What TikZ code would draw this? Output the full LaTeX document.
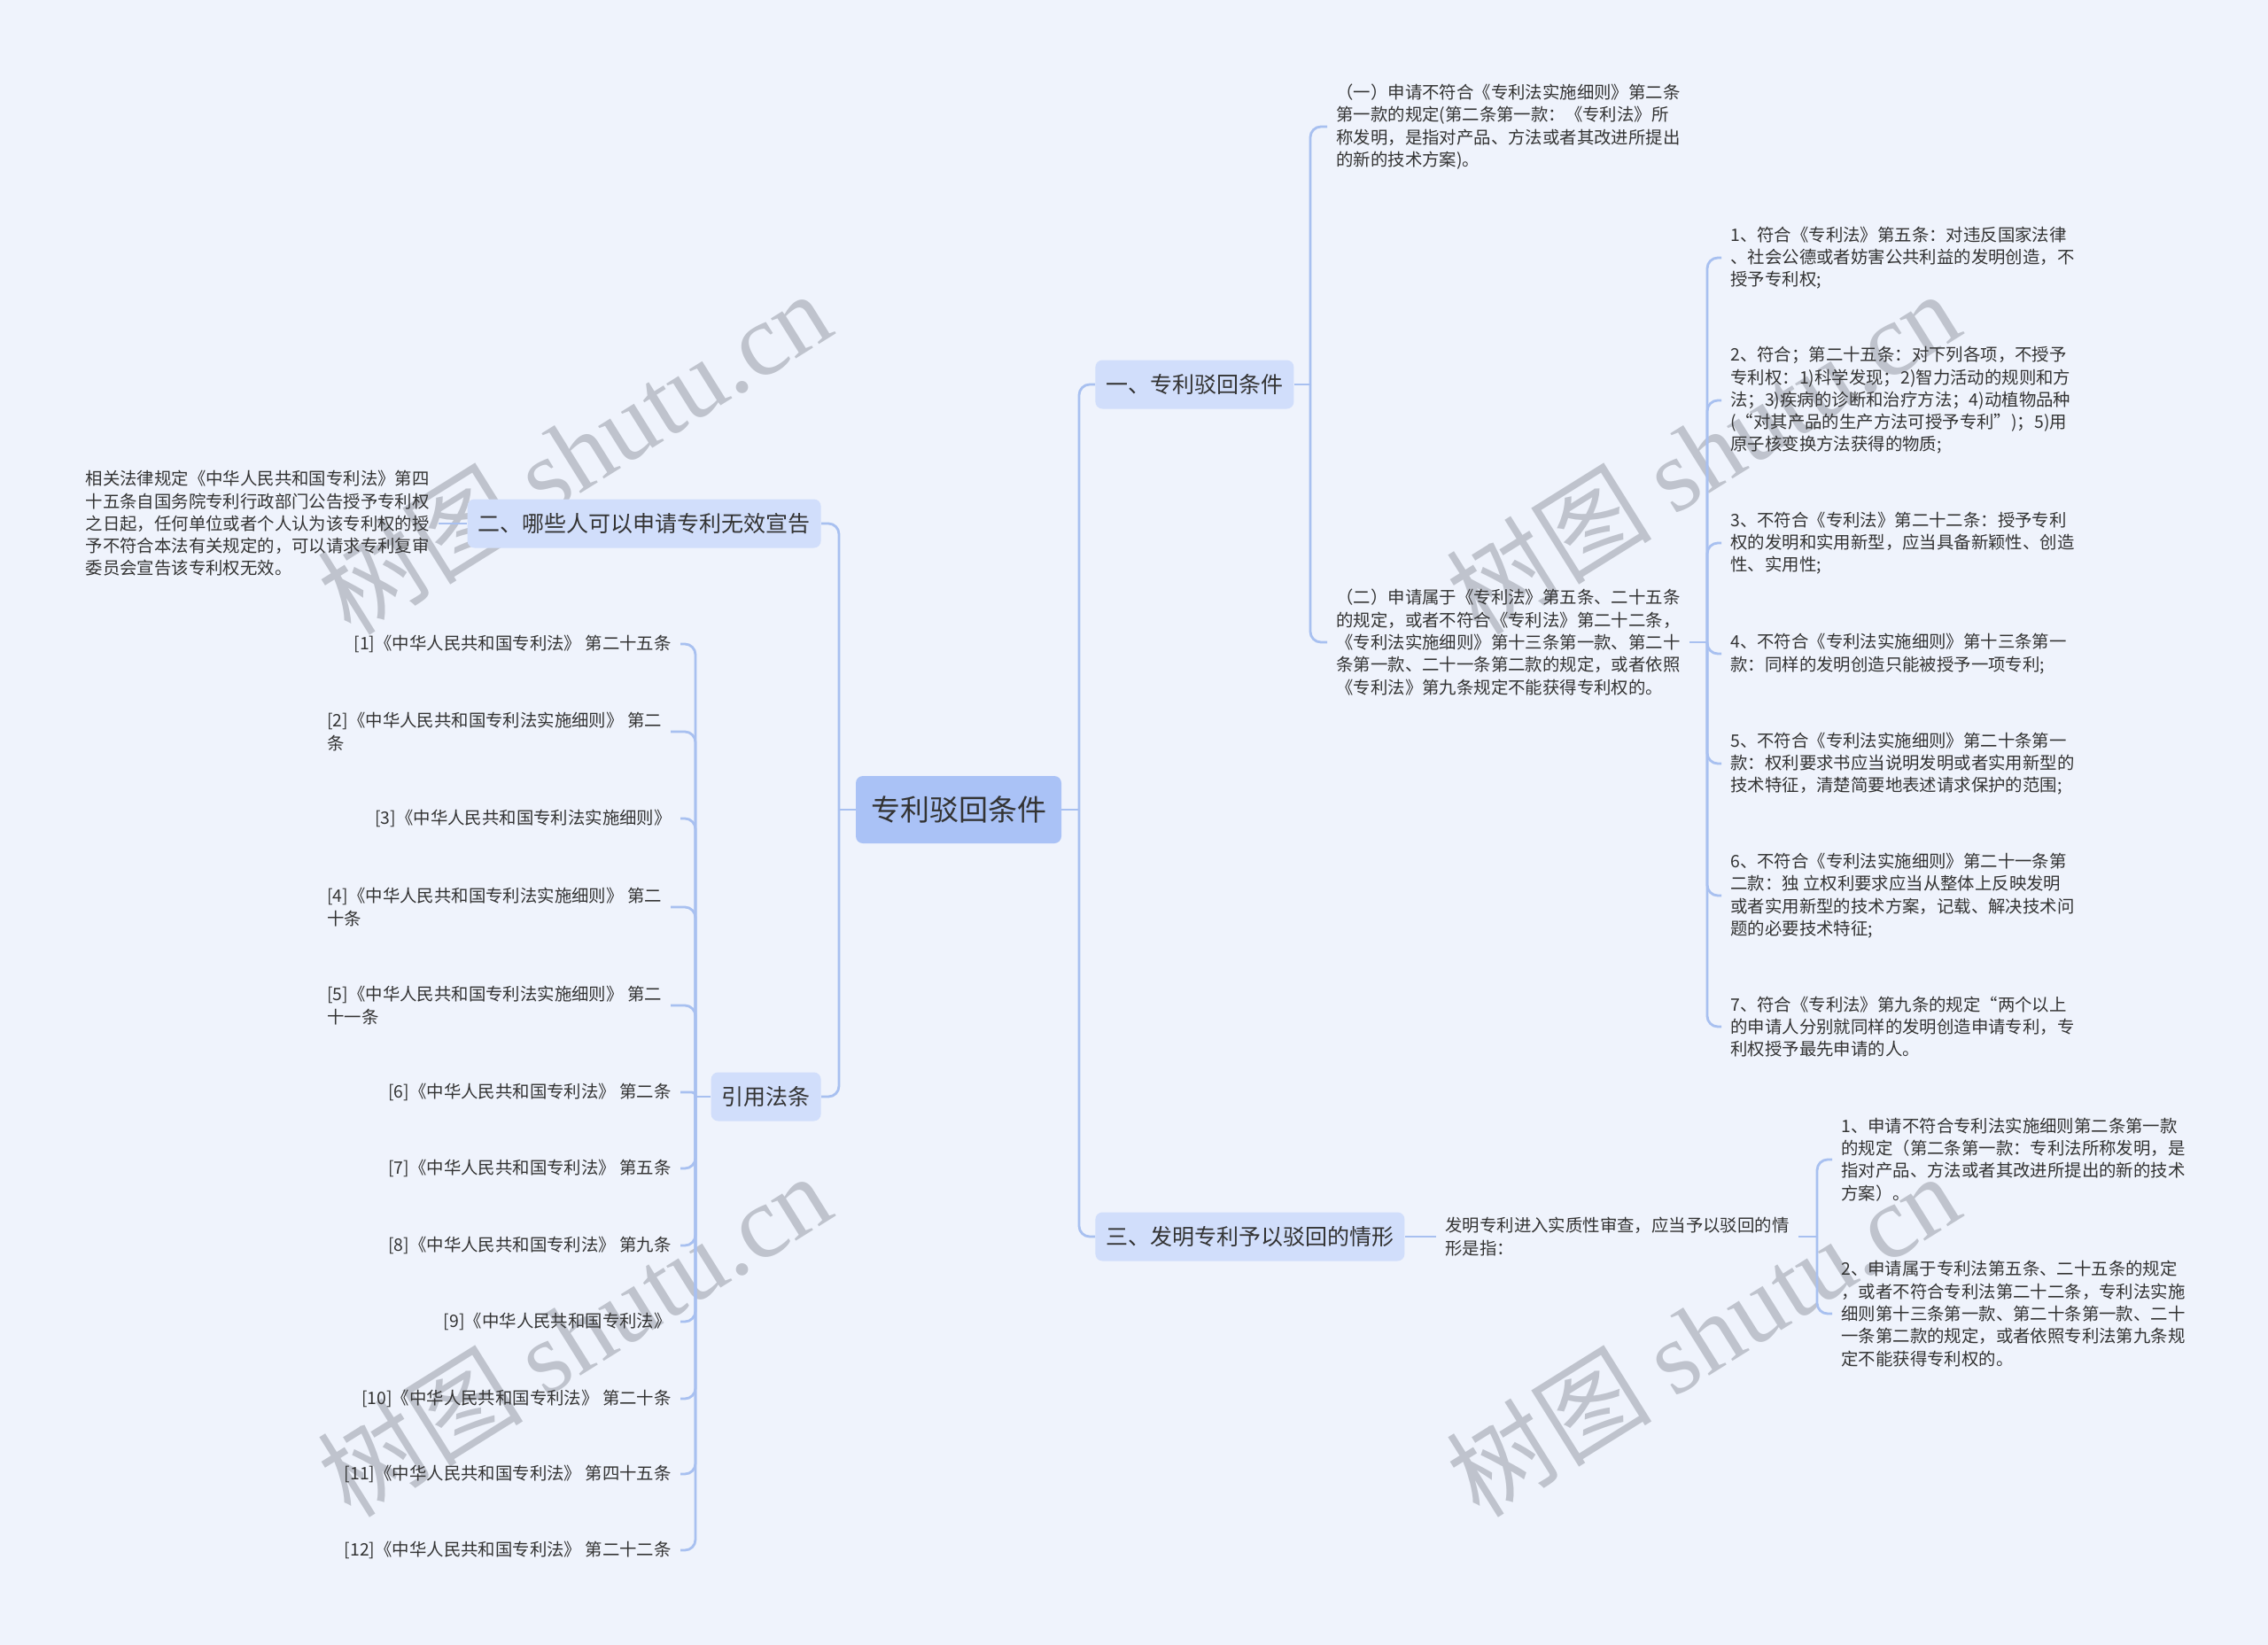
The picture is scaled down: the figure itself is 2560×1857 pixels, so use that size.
\documentclass[tikz,border=0pt]{standalone}
\usepackage{fontspec}
\setmainfont{Noto Sans CJK SC}
\newfontfamily\wmcjk{Noto Sans CJK SC}
\newfontfamily\wmlat{Liberation Serif}
\usetikzlibrary{calc}
\definecolor{bgc}{RGB}{239,243,252}
\definecolor{rootc}{RGB}{170,194,246}
\definecolor{mainc}{RGB}{209,222,251}
\definecolor{linec}{RGB}{168,192,240}
\definecolor{txtc}{RGB}{51,51,51}
\definecolor{wmc}{RGB}{120,125,135}
\begin{document}
\begin{tikzpicture}[x=0.5pt,y=-0.5pt,
  conn/.style={draw=linec, line width=1.4pt, rounded corners=6pt},
  rootbox/.style={fill=rootc, rounded corners=4pt, font=\fontsize{16.5pt}{20pt}\selectfont, text=txtc, inner xsep=8.5pt, minimum height=38pt},
  mainbox/.style={fill=mainc, rounded corners=4pt, font=\fontsize{12.5pt}{15pt}\selectfont, text=txtc, inner xsep=6pt, minimum height=27.5pt},
  leaf/.style={font=\fontsize{9.7pt}{12.65pt}\selectfont, text=txtc, align=left, inner xsep=5pt, inner ysep=0pt},
  wm/.style={rotate=32, text=wmc, opacity=0.4, font=\fontsize{58pt}{58pt}\selectfont},
]
\path[use as bounding box, fill=bgc] (0,0) rectangle (2560,1857);

% watermarks
\node[wm] (w1) at (648,510) {\wmcjk 树图\ \wmlat shutu.cn};
\node[wm] (w2) at (1922,510) {\wmcjk 树图\ \wmlat shutu.cn};
\node[wm] (w3) at (648,1506) {\wmcjk 树图\ \wmlat shutu.cn};
\node[wm] (w4) at (1922,1506) {\wmcjk 树图\ \wmlat shutu.cn};

% root and main branches
\node[rootbox] (root) at (1082,914) {专利驳回条件};
\node[mainbox, anchor=west] (b1) at (1236,434) {一、专利驳回条件};
\node[mainbox, anchor=west] (b3) at (1236,1396) {三、发明专利予以驳回的情形};
\node[mainbox, anchor=east] (b2) at (927,591) {二、哪些人可以申请专利无效宣告};
\node[mainbox, anchor=east] (b4) at (927,1238) {引用法条};

% branch one
\node[leaf, anchor=west] (a1) at (1498,143) {（一）申请不符合《专利法实施细则》第二条\\第一款的规定(第二条第一款：《专利法》所\\称发明，是指对产品、方法或者其改进所提出\\的新的技术方案)。};
\node[leaf, anchor=west] (a2) at (1498,725) {（二）申请属于《专利法》第五条、二十五条\\的规定，或者不符合《专利法》第二十二条，\\《专利法实施细则》第十三条第一款、第二十\\条第一款、二十一条第二款的规定，或者依照\\《专利法》第九条规定不能获得专利权的。};

\node[leaf, anchor=west] (i1) at (1943,291) {1、符合《专利法》第五条：对违反国家法律\\、社会公德或者妨害公共利益的发明创造，不\\授予专利权;};
\node[leaf, anchor=west] (i2) at (1943,452) {2、符合；第二十五条：对下列各项，不授予\\专利权：1)科学发现；2)智力活动的规则和方\\法；3)疾病的诊断和治疗方法；4)动植物品种\\(“对其产品的生产方法可授予专利”)；5)用\\原子核变换方法获得的物质;};
\node[leaf, anchor=west] (i3) at (1943,613) {3、不符合《专利法》第二十二条：授予专利\\权的发明和实用新型，应当具备新颖性、创造\\性、实用性;};
\node[leaf, anchor=west] (i4) at (1943,738) {4、不符合《专利法实施细则》第十三条第一\\款：同样的发明创造只能被授予一项专利;};
\node[leaf, anchor=west] (i5) at (1943,862) {5、不符合《专利法实施细则》第二十条第一\\款：权利要求书应当说明发明或者实用新型的\\技术特征，清楚简要地表述请求保护的范围;};
\node[leaf, anchor=west] (i6) at (1943,1011) {6、不符合《专利法实施细则》第二十一条第\\二款：独 立权利要求应当从整体上反映发明\\或者实用新型的技术方案，记载、解决技术问\\题的必要技术特征;};
\node[leaf, anchor=west] (i7) at (1943,1159) {7、符合《专利法》第九条的规定“两个以上\\的申请人分别就同样的发明创造申请专利，专\\利权授予最先申请的人。};

% branch three
\node[leaf, anchor=west] (c0) at (1621,1396) {发明专利进入实质性审查，应当予以驳回的情\\形是指：};
\node[leaf, anchor=west] (s1) at (2068,1309) {1、申请不符合专利法实施细则第二条第一款\\的规定（第二条第一款：专利法所称发明，是\\指对产品、方法或者其改进所提出的新的技术\\方案）。};
\node[leaf, anchor=west] (s2) at (2068,1483) {2、申请属于专利法第五条、二十五条的规定\\，或者不符合专利法第二十二条，专利法实施\\细则第十三条第一款、第二十条第一款、二十\\一条第二款的规定，或者依照专利法第九条规\\定不能获得专利权的。};

% branch two
\node[leaf, anchor=east] (p2) at (495,591) {相关法律规定《中华人民共和国专利法》第四\\十五条自国务院专利行政部门公告授予专利权\\之日起，任何单位或者个人认为该专利权的授\\予不符合本法有关规定的，可以请求专利复审\\委员会宣告该专利权无效。};

% references
\node[leaf, anchor=east] (r1) at (768,727) {[1]《中华人民共和国专利法》 第二十五条};
\node[leaf, anchor=west] (r2) at (359,826) {[2]《中华人民共和国专利法实施细则》 第二\\条};
\node[leaf, anchor=east] (r3) at (768,924) {[3]《中华人民共和国专利法实施细则》};
\node[leaf, anchor=west] (r4) at (359,1024) {[4]《中华人民共和国专利法实施细则》 第二\\十条};
\node[leaf, anchor=west] (r5) at (359,1135) {[5]《中华人民共和国专利法实施细则》 第二\\十一条};
\node[leaf, anchor=east] (r6) at (768,1233) {[6]《中华人民共和国专利法》 第二条};
\node[leaf, anchor=east] (r7) at (768,1319) {[7]《中华人民共和国专利法》 第五条};
\node[leaf, anchor=east] (r8) at (768,1406) {[8]《中华人民共和国专利法》 第九条};
\node[leaf, anchor=east] (r9) at (768,1492) {[9]《中华人民共和国专利法》};
\node[leaf, anchor=east] (r10) at (768,1579) {[10]《中华人民共和国专利法》 第二十条};
\node[leaf, anchor=east] (r11) at (768,1664) {[11]《中华人民共和国专利法》 第四十五条};
\node[leaf, anchor=east] (r12) at (768,1750) {[12]《中华人民共和国专利法》 第二十二条};

% connectors: root
\draw[conn] (root.east) -- (1218,914) coordinate (jr);
\draw[conn] (jr) |- (b1.west);
\draw[conn] (jr) |- (b3.west);
\draw[conn] (root.west) -- (947,914) coordinate (jl);
\draw[conn] (jl) |- (b2.east);
\draw[conn] (jl) |- (b4.east);

% branch one
\draw[conn] (b1.east) -- (1479,434) coordinate (j1);
\draw[conn] (j1) |- (a1.west);
\draw[conn] (j1) |- (a2.west);
\draw[conn] (a2.east) -- (1927,725) coordinate (j2);
\foreach \n in {i1,i2,i3,i4,i5,i6,i7} {\draw[conn] (j2) |- (\n.west);}

% branch three
\draw[conn] (b3.east) -- (c0.west);
\draw[conn] (c0.east) -- (2051,1396) coordinate (j3);
\draw[conn] (j3) |- (s1.west);
\draw[conn] (j3) |- (s2.west);

% branch two
\draw[conn] (b2.west) -- (p2.east);

% references
\draw[conn] (b4.west) -- (785,1238) coordinate (j4);
\foreach \n in {r1,r2,r3,r4,r5,r7,r8,r9,r10,r11,r12} {\draw[conn] (j4) |- (\n.east);}
\draw[conn, rounded corners=2pt] (j4) |- (r6.east);
\end{tikzpicture}
\end{document}
